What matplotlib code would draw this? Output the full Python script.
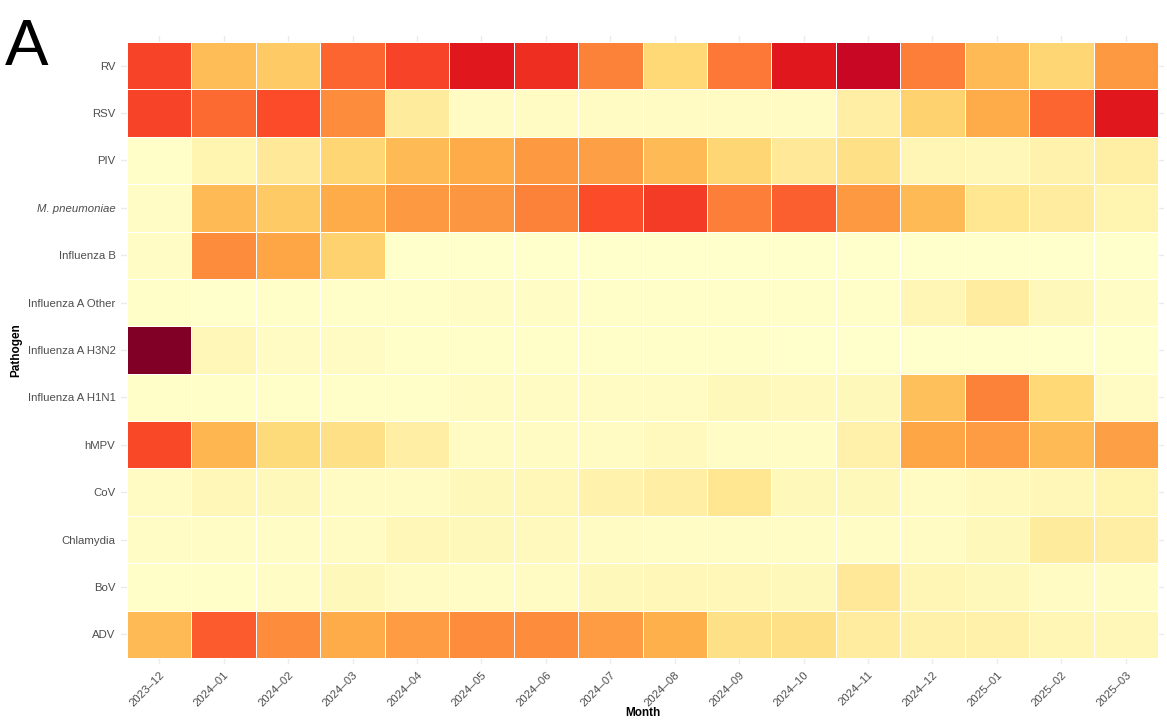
import numpy as np
import matplotlib
matplotlib.use("Agg")
import matplotlib.pyplot as plt

plt.rcParams["font.family"] = ["Liberation Sans", "DejaVu Sans"]

months = ["2023–12", "2024–01", "2024–02", "2024–03", "2024–04", "2024–05",
          "2024–06", "2024–07", "2024–08", "2024–09", "2024–10", "2024–11",
          "2024–12", "2025–01", "2025–02", "2025–03"]

# top to bottom as in the figure
pathogens = ["RV", "RSV", "PIV", "M. pneumoniae", "Influenza B", "Influenza A Other",
             "Influenza A H3N2", "Influenza A H1N1", "hMPV", "CoV", "Chlamydia",
             "BoV", "ADV"]

# relative intensity (0-1)
rv = [0.65, 0.34, 0.30, 0.58, 0.65, 0.76, 0.70, 0.52, 0.25, 0.54, 0.76, 0.84, 0.53, 0.35, 0.26, 0.46]
rsv = [0.65, 0.57, 0.63, 0.50, 0.14, 0.03, 0.03, 0.03, 0.03, 0.03, 0.03, 0.12, 0.27, 0.40, 0.58, 0.76]
piv = [0.01, 0.08, 0.15, 0.26, 0.35, 0.40, 0.46, 0.44, 0.35, 0.26, 0.15, 0.20, 0.07, 0.06, 0.09, 0.11]
mpn = [0.02, 0.35, 0.30, 0.40, 0.46, 0.47, 0.52, 0.63, 0.67, 0.53, 0.59, 0.46, 0.35, 0.17, 0.13, 0.08]
flub = [0.02, 0.50, 0.42, 0.27, 0.00, 0.00, 0.00, 0.00, 0.00, 0.00, 0.00, 0.00, 0.00, 0.00, 0.00, 0.00]
flua_other = [0.01, 0.00, 0.01, 0.01, 0.01, 0.02, 0.02, 0.01, 0.01, 0.01, 0.01, 0.01, 0.07, 0.13, 0.05, 0.02]
h3n2 = [1.00, 0.06, 0.03, 0.03, 0.01, 0.01, 0.01, 0.01, 0.01, 0.01, 0.00, 0.00, 0.00, 0.00, 0.00, 0.00]
h1n1 = [0.01, 0.01, 0.01, 0.01, 0.01, 0.03, 0.03, 0.03, 0.03, 0.05, 0.04, 0.05, 0.33, 0.52, 0.25, 0.03]
hmpv = [0.64, 0.36, 0.24, 0.20, 0.12, 0.03, 0.03, 0.03, 0.04, 0.02, 0.02, 0.10, 0.42, 0.45, 0.35, 0.44]
cov = [0.03, 0.06, 0.05, 0.03, 0.03, 0.05, 0.06, 0.09, 0.12, 0.17, 0.05, 0.05, 0.03, 0.04, 0.06, 0.08]
chlamydia = [0.02, 0.02, 0.02, 0.03, 0.06, 0.05, 0.04, 0.03, 0.02, 0.02, 0.02, 0.02, 0.03, 0.05, 0.14, 0.12]
bov = [0.01, 0.01, 0.02, 0.05, 0.03, 0.02, 0.03, 0.05, 0.06, 0.06, 0.05, 0.15, 0.07, 0.05, 0.03, 0.02]
adv = [0.35, 0.60, 0.50, 0.40, 0.45, 0.50, 0.50, 0.45, 0.38, 0.20, 0.20, 0.13, 0.10, 0.10, 0.07, 0.06]

grid = np.array([rv, rsv, piv, mpn, flub, flua_other, h3n2, h1n1,
                 hmpv, cov, chlamydia, bov, adv])

fig = plt.figure(figsize=(11.67, 7.21), dpi=100)
# panel a little larger than the tiles, like ggplot's expansion
ax = fig.add_axes([121 / 1167, 1 - 664 / 721, 1043 / 1167, 628 / 721])
ax.set_axisbelow(True)
ax.grid(True, color="#ebebeb", linewidth=1)
ax.pcolormesh(grid, cmap="YlOrRd", vmin=0, vmax=1, edgecolors="white", linewidth=0.5)
ax.set_xlim(-0.093, len(months) + 0.093)
ax.set_ylim(len(pathogens) + 0.127, -0.127)

ax.set_xticks(np.arange(len(months)) + 0.5)
ax.set_xticklabels(months, rotation=45, ha="right", rotation_mode="anchor")
ax.set_yticks(np.arange(len(pathogens)) + 0.5)
ax.set_yticklabels(pathogens)
for lab in ax.get_yticklabels():
    if lab.get_text() == "M. pneumoniae":
        lab.set_fontstyle("italic")
ax.tick_params(labelcolor="#4d4d4d", labelsize=8.2, length=0, pad=4)
for s in ax.spines.values():
    s.set_visible(False)

fig.text(642.5 / 1167, 1 - 713 / 721, "Month", fontsize=8.5, fontweight="bold",
         ha="center", va="center")
fig.text(16 / 1167, 1 - 350 / 721, "Pathogen", fontsize=8.5, fontweight="bold",
         ha="center", va="center", rotation=90)
fig.text(5 / 1167, 1 - 65 / 721, "A", fontsize=47, va="baseline", ha="left")

fig.savefig("out.png", dpi=100)
